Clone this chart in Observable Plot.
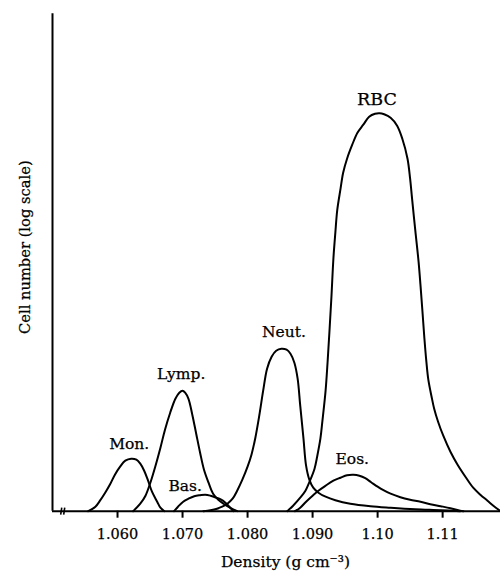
<!DOCTYPE html>
<html><head><meta charset="utf-8">
<script src="https://cdn.jsdelivr.net/npm/d3@7"></script>
<script src="https://cdn.jsdelivr.net/npm/@observablehq/plot@0.6"></script>
<style>
html,body{margin:0;padding:0;background:#fff;}
</style></head><body><div id="chart"></div>
<script>
// Density (g cm^-3) and relative cell number (arbitrary log-scale units) per cell type
const monDensity = [1.0555,1.0566,1.0573,1.0581,1.0589,1.0596,1.0604,1.0612,1.0621,1.0629,1.0635,1.0641,1.0647,1.0653,1.0661,1.0666,1.0672];
const monCount   = [0,0.9,2.1,3.7,5.5,7.3,8.9,10.1,10.5,10.3,9.5,8.1,6.1,3.9,1.9,0.7,0];

const lympDensity = [1.0624,1.0635,1.0643,1.0650,1.0658,1.0666,1.0673,1.0681,1.0689,1.0695,1.0700,1.0704,1.0709,1.0715,1.0721,1.0727,1.0733,1.0740,1.0747,1.0755,1.0763,1.0773,1.0784];
const lympCount   = [0,1.5,3.1,5.5,8.9,12.7,16.3,19.7,22.5,23.7,24.1,23.7,22.5,19.3,15.5,11.7,8.3,5.7,3.5,2.3,1.5,0.7,0];

const basDensity = [1.0687,1.0693,1.0701,1.0709,1.0718,1.0727,1.0735,1.0743,1.0750,1.0758,1.0766,1.0772,1.0778];
const basCount   = [0,0.9,1.9,2.5,3.0,3.2,3.3,3.1,2.8,2.4,1.7,0.9,0];

const neutDensity = [1.0732,1.0743,1.0753,1.0761,1.0769,1.0777,1.0784,1.0792,1.0800,1.0806,1.0812,1.0818,1.0824,1.0830,1.0837,1.0844,1.0852,1.0860,1.0866,1.0872,1.0877,1.0881,1.0886,1.0890,1.0895,1.0901,1.0909,1.0920,1.0935,1.0958,1.0989,1.1020,1.1058,1.1097,1.1127];
const neutCount   = [0,0.2,0.5,0.9,1.5,2.5,4.1,6.3,8.9,11.3,14.7,19.1,24.1,28.5,30.9,32.1,32.5,32.3,31.5,29.7,26.5,21.1,14.5,9.1,6.3,4.7,3.7,2.9,2.2,1.5,1.0,0.7,0.4,0.2,0];

const rbcDensity = [1.0861,1.0870,1.0881,1.0889,1.0896,1.0903,1.0907,1.0912,1.0915,1.0920,1.0923,1.0926,1.0929,1.0932,1.0935,1.0938,1.0943,1.0947,1.0953,1.0961,1.0969,1.0978,1.0987,1.0996,1.1003,1.1010,1.1020,1.1030,1.1038,1.1046,1.1050,1.1053,1.1058,1.1063,1.1066,1.1069,1.1072,1.1075,1.1078,1.1083,1.1087,1.1093,1.1101,1.1112,1.1123,1.1135,1.1147,1.1158,1.1169,1.1178,1.1189];
const rbcCount   = [0,1.1,2.7,4.1,6.1,8.5,10.9,14.5,17.9,24.1,29.7,36.1,42.9,50.5,55.7,60.3,64.5,67.7,70.5,73.3,75.7,77.3,78.9,79.5,79.6,79.4,78.7,77.1,74.5,70.5,66.5,62.5,56.1,49.9,45.1,39.9,34.5,29.9,26.3,22.9,20.5,17.9,15.1,11.9,9.3,6.9,4.7,3.3,2.1,1.1,0];

const eosDensity = [1.0873,1.0881,1.0890,1.0900,1.0909,1.0920,1.0932,1.0943,1.0953,1.0963,1.0972,1.0981,1.0990,1.1000,1.1009,1.1020,1.1035,1.1050,1.1066,1.1081,1.1097,1.1112,1.1127,1.1132];
const eosCount   = [0,0.7,1.9,3.1,4.1,5.1,6.1,6.7,7.2,7.3,7.1,6.6,5.8,4.9,4.2,3.5,2.8,2.3,1.9,1.4,1.0,0.6,0.1,0];

// Curve labels
const labelText    = ["Mon.","Lymp.","Bas.","Neut.","Eos.","RBC"];
const labelDensity = [1.0618,1.0698,1.0704,1.0856,1.0961,1.0999];
const labelCount   = [13.5,27.5,5.1,35.9,10.5,82.3];

// Axis
const xTicks = [1.06,1.07,1.08,1.09,1.10,1.11];
const xTickLabels = ["1.060","1.070","1.080","1.090","1.10","1.11"];
const xDomain = [1.0500, 1.1189];
const axisBreaks = [1.05134, 1.05180];
const xLabel = "Density (g cm\u207B\u00B3)";
const yLabel = "Cell number (log scale)";

const FONT = "DejaVu Serif";

const series = [
  ["Mon.", monDensity, monCount],
  ["Lymp.", lympDensity, lympCount],
  ["Bas.", basDensity, basCount],
  ["Neut.", neutDensity, neutCount],
  ["RBC", rbcDensity, rbcCount],
  ["Eos.", eosDensity, eosCount]
];
const rows = series.flatMap(([cell, xs, ys]) => xs.map((x, i) => ({cell, density: x, count: ys[i]})));
const labels = labelText.map((t, i) => ({text: t, density: labelDensity[i], count: labelCount[i]}));
const tickMap = new Map(xTicks.map((t, i) => [t, xTickLabels[i]]));

const textStyle = {fontFamily: FONT, fill: "black", stroke: "black", strokeWidth: 0.25};

const chart = Plot.plot({
  width: 500,
  height: 572,
  marginLeft: 52,
  marginRight: 0,
  marginTop: 10.7,
  marginBottom: 61.3,
  style: {fontSize: "15px", color: "black", background: "white", overflow: "visible"},
  x: {domain: xDomain},
  y: {domain: [0, 100], axis: null},
  marks: [
    Plot.axisX({ticks: xTicks, tickFormat: d => tickMap.get(d), tickSize: 7, tickPadding: 11, strokeWidth: 2, fontSize: 14.5, fontFamily: FONT, textStroke: "black", textStrokeWidth: 0.25, label: null}),
    Plot.ruleY([0], {stroke: "black", strokeWidth: 2}),
    Plot.ruleX([xDomain[0]], {y1: 0, y2: 99.5, stroke: "black", strokeWidth: 2}),
    Plot.link(axisBreaks, {x1: d => d - 0.00008, x2: d => d + 0.00008, y1: -0.7, y2: 0.7, stroke: "black", strokeWidth: 1.6}),
    Plot.line(rows, {x: "density", y: "count", z: "cell", curve: "catmull-rom", stroke: "black", strokeWidth: 2}),
    Plot.text(labels.filter(d => d.text !== "RBC"), {x: "density", y: "count", text: "text", fontSize: 15.5, ...textStyle}),
    Plot.text(labels.filter(d => d.text === "RBC"), {x: "density", y: "count", text: "text", fontSize: 17.5, ...textStyle}),
    Plot.text([xLabel], {frameAnchor: "bottom", textAnchor: "middle", lineAnchor: "middle", text: d => d, dx: 9, dy: 51, fontSize: 15.5, ...textStyle}),
    Plot.text([yLabel], {frameAnchor: "left", textAnchor: "middle", lineAnchor: "middle", text: d => d, rotate: -90, dx: -27, dy: -14, fontSize: 14.7, ...textStyle})
  ]
});
document.getElementById("chart").appendChild(chart);
</script>
</body></html>
